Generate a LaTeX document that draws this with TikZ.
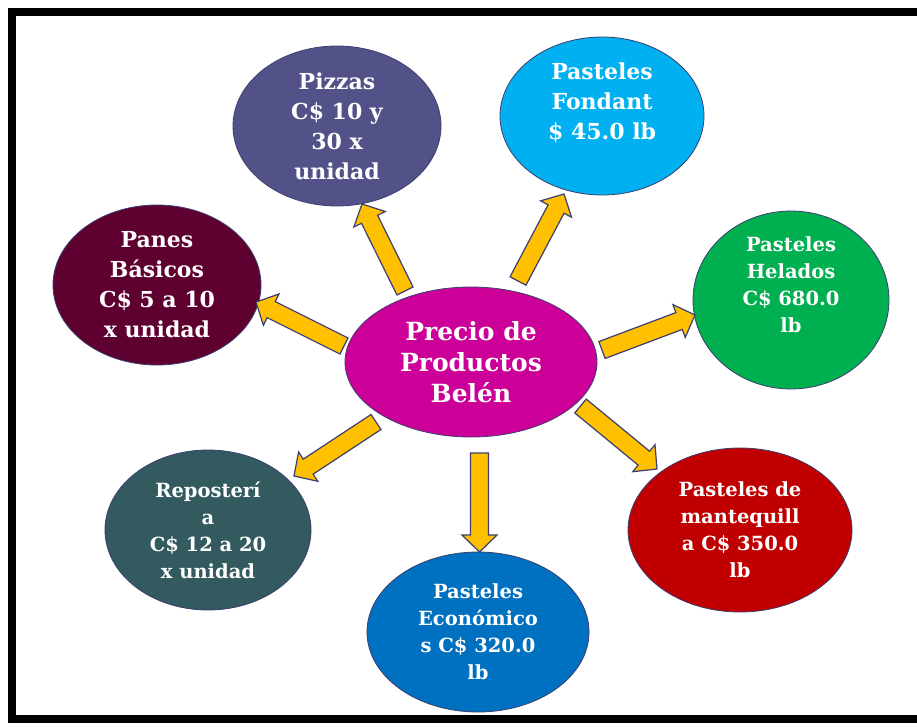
\documentclass[tikz,border=0pt]{standalone}
\usepackage{fontspec}
\setmainfont{DejaVu Serif}
\usepackage{tikz}
\usetikzlibrary{shapes.geometric, calc}
\definecolor{cBelen}{RGB}{204,0,153}
\definecolor{cPizza}{RGB}{82,82,136}
\definecolor{cFondant}{RGB}{0,176,240}
\definecolor{cHelado}{RGB}{0,176,80}
\definecolor{cManteq}{RGB}{192,0,0}
\definecolor{cEcono}{RGB}{0,112,192}
\definecolor{cRepos}{RGB}{50,90,95}
\definecolor{cPanes}{RGB}{94,0,48}
\definecolor{cGold}{RGB}{255,192,0}
\definecolor{cEdge}{RGB}{60,62,110}
\tikzstyle{oval}    = [ellipse, draw=cEdge, line width=0.8pt, inner sep=0pt,
                       text=white, align=center,
                       font=\bfseries\fontsize{19.5}{27}\selectfont]
\tikzstyle{bigoval} = [oval, font=\bfseries\fontsize{22}{30}\selectfont]
\tikzstyle{goldarrow} = [draw=cEdge, fill=cGold, line width=1.2pt, line join=miter,
  to path={($(\tikztostart)!9pt!90:(\tikztotarget)$)
    -- ($(\tikztotarget)!17pt!(\tikztostart)!9pt!-90:(\tikztostart)$)
    -- ($(\tikztotarget)!17pt!(\tikztostart)!17.5pt!-90:(\tikztostart)$)
    -- (\tikztotarget)
    -- ($(\tikztotarget)!17pt!(\tikztostart)!17.5pt!90:(\tikztostart)$)
    -- ($(\tikztotarget)!17pt!(\tikztostart)!9pt!90:(\tikztostart)$)
    -- ($(\tikztostart)!9pt!-90:(\tikztotarget)$) -- cycle}]
\begin{document}
\begin{tikzpicture}[x=1pt, y=-1pt]
  \useasboundingbox (0,0) rectangle (917,726);
  \clip (0,0) rectangle (917,726);
  \fill[white] (0,0) rectangle (917,726);
  % frame, open on the right
  \draw[line width=8pt] (930,11.5) -- (12,11.5) -- (12,719) -- (930,719);

  \node[oval, fill=cBelen, minimum width=252pt, minimum height=150pt,
        font=\bfseries\fontsize{25}{31}\selectfont] (belen) at (471,362)
        {Precio de\\Productos\\Belén};
  \node[bigoval, fill=cPizza, minimum width=208pt, minimum height=160pt] (pizza) at (337,126)
        {Pizzas\\C\$ 10 y\\30 x\\unidad};
  \node[bigoval, fill=cFondant, minimum width=204pt, minimum height=158pt,
        text depth=30pt] (fondant) at (602,116)
        {Pasteles\\Fondant\\\$ 45.0 lb};
  \node[oval, fill=cHelado, minimum width=196pt, minimum height=156pt,
        text depth=30pt] (helado) at (791,300)
        {Pasteles\\Helados\\C\$ 680.0\\lb};
  \node[oval, fill=cManteq, minimum width=224pt, minimum height=164pt] (manteq) at (740,530)
        {Pasteles de\\mantequill\\a C\$ 350.0\\lb};
  \node[oval, fill=cEcono, minimum width=222pt, minimum height=160pt] (econo) at (478,632)
        {Pasteles\\Económico\\s C\$ 320.0\\lb};
  \node[oval, fill=cRepos, minimum width=206pt, minimum height=160pt] (repos) at (208,530)
        {Reposterí\\a\\C\$ 12 a 20\\x unidad};
  \node[bigoval, fill=cPanes, minimum width=208pt, minimum height=160pt] (panes) at (157,285)
        {Panes\\Básicos\\C\$ 5 a 10\\x unidad};

  % arrow ends
  \coordinate (pizzaT)   at (405,291);   \coordinate (pizzaH)   at (362,204);
  \coordinate (fondantT) at (518,281);   \coordinate (fondantH) at (564,194);
  \coordinate (heladoT)  at (602,350);   \coordinate (heladoH)  at (695,315);
  \coordinate (manteqT)  at (580.5,406); \coordinate (manteqH)  at (657,469);
  \coordinate (econoT)   at (479.5,453); \coordinate (econoH)   at (479.5,552);
  \coordinate (reposT)   at (376,422);   \coordinate (reposH)   at (294,476);
  \coordinate (panesT)   at (344,346);   \coordinate (panesH)   at (256,302);

  \draw[goldarrow] (pizzaT)   to (pizzaH);
  \draw[goldarrow] (fondantT) to (fondantH);
  \draw[goldarrow] (heladoT)  to (heladoH);
  \draw[goldarrow] (manteqT)  to (manteqH);
  \draw[goldarrow] (econoT)   to (econoH);
  \draw[goldarrow] (reposT)   to (reposH);
  \draw[goldarrow] (panesT)   to (panesH);
\end{tikzpicture}
\end{document}
